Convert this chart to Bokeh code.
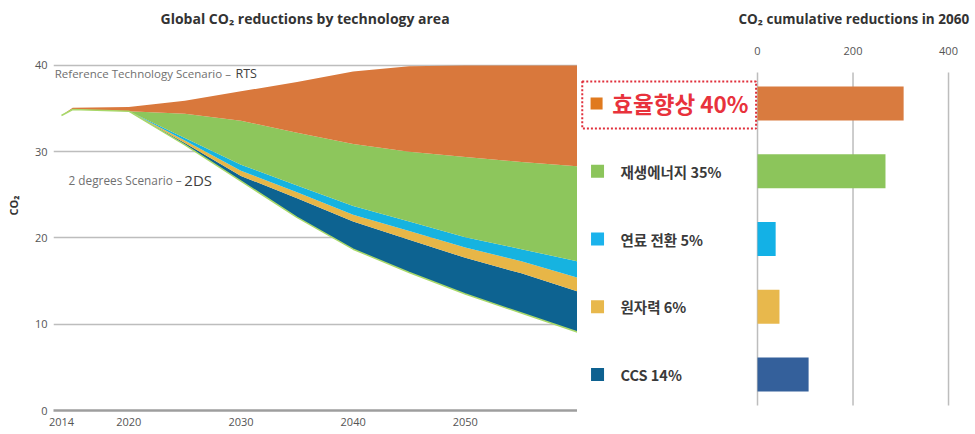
from bokeh.plotting import figure
from bokeh.models import ColumnDataSource, Range1d, FixedTicker, Label
from bokeh.layouts import row
from bokeh.transform import stack
from bokeh.core.properties import value
from bokeh.embed import file_html
from bokeh.resources import INLINE

# ---------------- data ----------------
years = [2014, 2015, 2020, 2025, 2030, 2035, 2040, 2045, 2050, 2055, 2060]
emissions_2ds = [34.2, 34.9, 34.7, 30.8, 26.6, 22.4, 18.7, 16.0, 13.5, 11.3, 9.1]
ccs = [0, 0, 0, 0.2, 0.6, 2.2, 3.2, 3.8, 4.2, 4.6, 4.7]
nuclear = [0, 0, 0, 0.3, 0.6, 0.7, 0.8, 1.0, 1.2, 1.4, 1.6]
fuel_switch = [0, 0, 0, 0.3, 0.7, 0.8, 1.0, 1.1, 1.2, 1.4, 1.9]
renewables = [0, 0, 0, 2.8, 5.1, 6.1, 7.2, 8.1, 9.3, 10.1, 11.0]
efficiency = [0, 0.2, 0.5, 1.5, 3.4, 5.9, 8.4, 9.9, 10.6, 11.2, 11.7]

year_ticks = [2014, 2020, 2030, 2040, 2050]
co2_ticks = [0, 10, 20, 30, 40]

categories = ["효율향상", "재생에너지", "연료 전환", "원자력", "CCS"]
shares = [40, 35, 5, 6, 14]
cumulative = [306, 268, 38, 46, 107]
bar_ticks = [0, 200, 400]

# ---------------- styles ----------------
area_colors = {"ccs": "#0D6391", "nuclear": "#E7B647", "fuel": "#16B3E0",
               "renew": "#8DC65C", "eff": "#D9783C"}
bar_colors = ["#D97B3F", "#8CC55B", "#13B1E6", "#E8B84C", "#34609B"]
legend_colors = ["#E07A1F", "#8CC55B", "#1BB3EC", "#E8B84C", "#0E6190"]
LATIN = "Open Sans"
KR = "Noto Sans CJK KR"
H = 432
BOTTOM = 22

# ---------------- left chart ----------------
src = ColumnDataSource(dict(year=years, base=emissions_2ds, ccs=ccs, nuclear=nuclear,
                            fuel=fuel_switch, renew=renewables, eff=efficiency))

left = figure(width=577, height=H, output_backend="svg", toolbar_location=None,
              x_range=Range1d(2013.29, 2060), y_range=Range1d(0, 47.536),
              min_border_left=53, min_border_right=0, min_border_top=0,
              min_border_bottom=BOTTOM)
left.outline_line_color = None

layers = ["base", "ccs", "nuclear", "fuel", "renew", "eff"]
for i in range(1, len(layers)):
    left.varea(x="year", y1=stack(*layers[:i]), y2=stack(*layers[:i + 1]),
               source=src, fill_color=area_colors[layers[i]])
left.line(x="year", y="base", source=src, line_color="#A8D86A", line_width=1.5)

left.xgrid.grid_line_color = None
left.ygrid.ticker = FixedTicker(ticks=co2_ticks)
left.ygrid.grid_line_color = "#BDBDBD"
left.ygrid.grid_line_width = 1.5

left.yaxis.ticker = FixedTicker(ticks=co2_ticks)
left.yaxis.axis_line_color = None
left.yaxis.major_tick_line_color = None
left.yaxis.major_tick_out = 0
left.yaxis.minor_tick_out = 0
left.yaxis.minor_tick_line_color = None
left.yaxis.major_label_standoff = 6
left.yaxis.major_label_text_font = LATIN
left.yaxis.major_label_text_font_size = "11px"
left.yaxis.major_label_text_color = "#555555"
left.yaxis.axis_label = "CO₂"
left.yaxis.axis_label_text_font = LATIN
left.yaxis.axis_label_text_font_style = "bold"
left.yaxis.axis_label_text_font_size = "11px"
left.yaxis.axis_label_text_color = "#333333"
left.yaxis.axis_label_standoff = 11

left.xaxis.ticker = FixedTicker(ticks=year_ticks)
left.xaxis.axis_line_color = "#9E9E9E"
left.xaxis.axis_line_width = 2.5
left.xaxis.major_tick_line_color = None
left.xaxis.major_tick_out = 0
left.xaxis.minor_tick_out = 0
left.xaxis.minor_tick_line_color = None
left.xaxis.major_label_standoff = 7
left.xaxis.major_label_text_font = LATIN
left.xaxis.major_label_text_font_size = "11px"
left.xaxis.major_label_text_color = "#555555"

left.add_layout(Label(x=2022.83, y=45.45, text="Global CO₂ reductions by technology area",
                      text_font=LATIN, text_font_size="14px", text_font_style="bold",
                      text_color="#333333", text_baseline="middle"))
left.add_layout(Label(x=2013.4, y=39.07, text="Reference Technology Scenario – ",
                      text_font=LATIN, text_font_size="11.5px", text_color="#707070",
                      text_baseline="middle"))
left.add_layout(Label(x=2029.51, y=39.07, text="RTS",
                      text_font=LATIN, text_font_size="12.5px", text_color="#404040",
                      text_baseline="middle"))
left.add_layout(Label(x=2014.63, y=26.67, text="2 degrees Scenario –",
                      text_font=LATIN, text_font_size="11.8px", text_color="#707070",
                      text_baseline="middle"))
left.add_layout(Label(x=2024.95, y=26.67, text="2DS",
                      text_font=LATIN, text_font_size="15px", text_color="#404040",
                      text_baseline="middle"))

# ---------------- right chart ----------------
pos = list(range(len(categories)))
labels = [f"{c} {s}%" for c, s in zip(categories, shares)]
bsrc = ColumnDataSource(dict(pos=pos, value=cumulative, color=bar_colors))
hi = ColumnDataSource(dict(pos=pos[:1], lcolor=legend_colors[:1], label=labels[:1]))
rest = ColumnDataSource(dict(pos=pos[1:], lcolor=legend_colors[1:], label=labels[1:]))
tick_src = ColumnDataSource(dict(x=bar_ticks, label=[str(t) for t in bar_ticks]))

right = figure(width=398, height=H, output_backend="svg", toolbar_location=None,
               x_range=Range1d(-376.96, 456.5), y_range=Range1d(4.531, -1.520),
               x_axis_location=None, y_axis_location=None,
               min_border_left=0, min_border_right=0, min_border_top=0,
               min_border_bottom=BOTTOM)
right.outline_line_color = None
right.xgrid.grid_line_color = None
right.ygrid.grid_line_color = None

# value axis: gridlines and labels at the tick values
right.segment(x0="x", y0=-0.457, x1="x", y1=4.458, source=tick_src,
              line_color="#BDBDBD", line_width=1.5)
right.text(x="x", y=-0.782, text="label", source=tick_src, text_font=value(LATIN),
           text_font_size="11px", text_color="#555555", text_align="center",
           text_baseline="middle")
right.add_layout(Label(x=-39.8, y=-1.254, text="CO₂ cumulative reductions in 2060",
                       text_font=LATIN, text_font_size="13.5px", text_font_style="bold",
                       text_color="#333333", text_baseline="middle"))

right.hbar(y="pos", left=0, right="value", height=0.5, fill_color="color",
           line_color=None, source=bsrc)

# legend drawn beside bars
right.scatter(x=-335, y="pos", marker="square", size=13, fill_color="lcolor",
              line_color=None, source=rest)
right.text(x=-287, y="pos", text="label", source=rest, text_font=value(KR),
           text_font_style="bold", text_font_size="14.5px", text_color="#3A3A3A",
           text_baseline="middle")
right.scatter(x=-337, y="pos", marker="square", size=12, fill_color="lcolor",
              line_color=None, source=hi)
right.text(x=-304, y="pos", text="label", source=hi, text_font=value(KR),
           text_font_style="bold", text_font_size="22.5px", text_color="#E8323C",
           text_baseline="middle")
right.quad(left=-367, right=-3, top=-0.325, bottom=0.369, fill_color=None,
           line_color="#E0303C", line_width=2, line_dash="2 2")

out = row(left, right)
open("out.html", "w").write(file_html(out, INLINE))
